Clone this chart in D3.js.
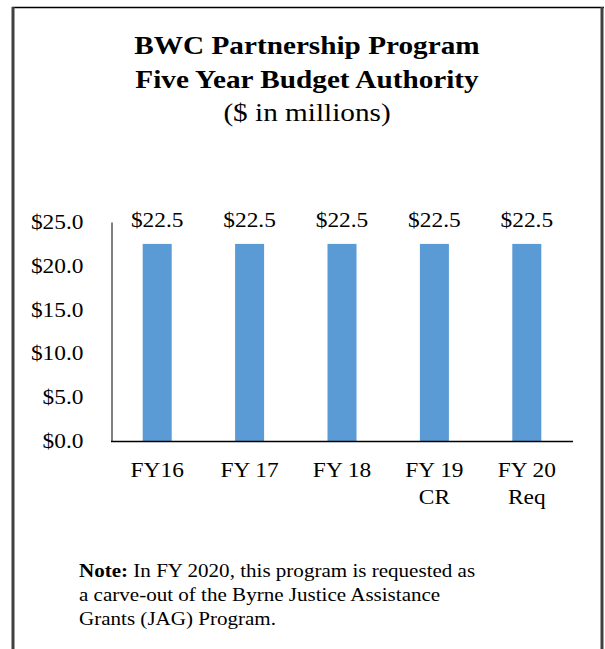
<!DOCTYPE html>
<html>
<head>
<meta charset="utf-8">
<script src="https://cdn.jsdelivr.net/npm/d3@7"></script>
<style>
  html, body { margin: 0; padding: 0; background: #fff; }
  svg { display: block; }
  text { font-family: "Liberation Serif", "Times New Roman", serif; fill: #000; }
</style>
</head>
<body>
<div id="chart"></div>
<script>
const categories = [["FY16"], ["FY 17"], ["FY 18"], ["FY 19", "CR"], ["FY 20", "Req"]];
const values = [22.5, 22.5, 22.5, 22.5, 22.5];
const yTicks = [0, 5, 10, 15, 20, 25];
const titleLines = ["BWC Partnership Program", "Five Year Budget Authority"];
const subtitle = "($ in millions)";
const noteLabel = "Note:";
const noteLines = [
  "In FY 2020, this program is requested as",
  "a carve-out of the Byrne Justice Assistance",
  "Grants (JAG) Program."
];

const W = 605, H = 649;
const SX = 1.17; // horizontal stretch of the reference text
const svg = d3.select("#chart").append("svg").attr("width", W).attr("height", H);

function label(x, y, str, opts = {}) {
  const g = svg.append("g").attr("transform", `translate(${x},${y}) scale(${SX},1)`);
  return g.append("text")
    .attr("text-anchor", opts.anchor || "start")
    .attr("font-size", opts.size || 20)
    .attr("font-weight", opts.weight || "normal")
    .text(str);
}

// frame
svg.append("line").attr("x1", 12).attr("x2", 604).attr("y1", 7.5).attr("y2", 7.5)
  .attr("stroke", "#000").attr("stroke-width", 1.5);
svg.append("line").attr("x1", 13).attr("x2", 13).attr("y1", 7).attr("y2", H)
  .attr("stroke", "#404040").attr("stroke-width", 3);
svg.append("line").attr("x1", 602).attr("x2", 602).attr("y1", 7).attr("y2", H)
  .attr("stroke", "#404040").attr("stroke-width", 3);

// titles
const cx = 307;
label(cx, 54, titleLines[0], {anchor: "middle", size: 25, weight: "bold"});
label(cx, 88, titleLines[1], {anchor: "middle", size: 25, weight: "bold"});
label(cx, 121, subtitle, {anchor: "middle", size: 25});

// scales
const x = d3.scaleBand().domain(d3.range(categories.length)).range([111, 573]).paddingInner(0.686).paddingOuter(0.343);
const y = d3.scaleLinear().domain([0, 25]).range([441, 222]);

// y axis
const yAxis = d3.axisLeft(y).tickValues(yTicks).tickSize(0).tickPadding(28)
  .tickFormat(d => "$" + d3.format(".1f")(d));
const gy = svg.append("g").attr("transform", "translate(111.5,0)").call(yAxis);
gy.select(".domain").attr("stroke", "#000").attr("stroke-width", 1);
gy.selectAll("text")
  .attr("font-size", 20)
  .attr("font-family", "Liberation Serif, Times New Roman, serif")
  .attr("fill", "#000")
  .attr("x", -28 / SX)
  .attr("transform", `scale(${SX},1)`);

// bars
svg.selectAll("rect.bar").data(values).enter().append("rect")
  .attr("class", "bar")
  .attr("x", (d, i) => x(i))
  .attr("width", x.bandwidth())
  .attr("y", d => y(d))
  .attr("height", d => y(0) - y(d))
  .attr("fill", "#5b9bd5");

// value labels
values.forEach((d, i) => {
  label(x(i) + x.bandwidth() / 2, y(d) - 17, "$" + d3.format(".1f")(d), {anchor: "middle", size: 20});
});

// x axis baseline
svg.append("line").attr("x1", 111).attr("x2", 573).attr("y1", 441.5).attr("y2", 441.5)
  .attr("stroke", "#000").attr("stroke-width", 1.5);

// category labels
categories.forEach((lines, i) => {
  lines.forEach((l, j) => {
    label(x(i) + x.bandwidth() / 2, 477 + j * 27, l, {anchor: "middle", size: 20});
  });
});

// note
const n1 = label(79, 577, "", {size: 18});
n1.append("tspan").attr("font-weight", "bold").text(noteLabel);
n1.append("tspan").text(" " + noteLines[0]);
noteLines.slice(1).forEach((l, j) => {
  label(79, 601 + j * 24, l, {size: 18});
});
</script>
</body>
</html>
